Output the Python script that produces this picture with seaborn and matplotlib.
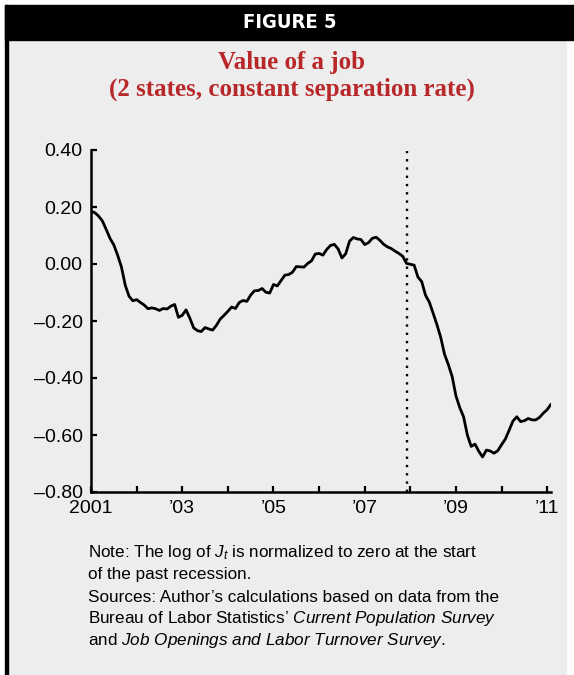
import numpy as np
import pandas as pd
import matplotlib
matplotlib.use("Agg")
import matplotlib.pyplot as plt
import seaborn as sns
from matplotlib.patches import Rectangle

# monthly values of log J_t, Jan 2001 .. Feb 2011
job_value = [
    0.185, 0.180, 0.168, 0.151, 0.121, 0.090, 0.067, 0.031, -0.010, -0.074,
    -0.113, -0.129, -0.125, -0.135, -0.144, -0.157, -0.154, -0.157, -0.163, -0.156,
    -0.158, -0.148, -0.142, -0.187, -0.180, -0.161, -0.190, -0.224, -0.234, -0.237,
    -0.223, -0.228, -0.232, -0.215, -0.193, -0.180, -0.166, -0.151, -0.156, -0.135,
    -0.128, -0.131, -0.109, -0.094, -0.093, -0.086, -0.099, -0.102, -0.072, -0.077,
    -0.058, -0.039, -0.037, -0.029, -0.009, -0.010, -0.011, 0.002, 0.011, 0.035,
    0.037, 0.031, 0.051, 0.065, 0.069, 0.053, 0.021, 0.036, 0.080, 0.093,
    0.088, 0.086, 0.068, 0.075, 0.090, 0.094, 0.083, 0.069, 0.060, 0.054,
    0.045, 0.037, 0.027, 0.002, -0.001, -0.004, -0.046, -0.062, -0.110, -0.134,
    -0.173, -0.213, -0.258, -0.317, -0.353, -0.395, -0.463, -0.504, -0.536, -0.600,
    -0.640, -0.632, -0.657, -0.677, -0.653, -0.656, -0.664, -0.655, -0.634, -0.614,
    -0.583, -0.551, -0.536, -0.553, -0.550, -0.542, -0.547, -0.547, -0.538, -0.523,
    -0.511, -0.492,
]
dates = pd.date_range("2001-01-01", periods=len(job_value), freq="MS")
recession_start = pd.Timestamp("2007-12-01")

y_ticks = [0.4, 0.2, 0.0, -0.2, -0.4, -0.6, -0.8]
y_labels = ["0.40", "0.20", "0.00", "\u20130.20", "\u20130.40", "\u20130.60", "\u20130.80"]
x_years = list(range(2001, 2012))
x_labels = ["2001", "", "\u201903", "", "\u201905", "", "\u201907", "", "\u201909", "", "\u201911"]


def decimal_year(ts):
    return ts.year + (ts.month - 1) / 12.0


df = pd.DataFrame({"year": [decimal_year(d) for d in dates], "value": job_value})

sns.set_theme(style="ticks")
plt.rcParams["font.family"] = ["Liberation Sans", "DejaVu Sans"]
plt.rcParams["text.color"] = "black"
plt.rcParams["mathtext.fontset"] = "custom"
plt.rcParams["mathtext.rm"] = "Liberation Sans"
plt.rcParams["mathtext.it"] = "Liberation Sans:italic"

W, H = 574, 675
fig = plt.figure(figsize=(W / 100, H / 100), dpi=100, facecolor="white")

# panel background, header bar and left rule (pixel coords -> fig fraction)
def px_rect(x0, y0, x1, y1, color):
    fig.patches.append(Rectangle((x0 / W, 1 - y1 / H), (x1 - x0) / W, (y1 - y0) / H,
                                 transform=fig.transFigure, color=color, zorder=-10))

px_rect(6, 40, 566, 675, "#ededed")
px_rect(5, 5, 574, 40, "black")
px_rect(5, 5, 8, 675, "black")

fig.text(290 / W, 1 - 23 / H, "FIGURE 5", color="white", fontsize=14.5, fontweight="heavy",
         fontstretch="condensed", ha="center", va="center", family="DejaVu Sans")
fig.text(292 / W, 1 - 62 / H, "Value of a job", color="#b8282a", fontsize=18,
         fontweight="bold", ha="center", va="center", family="Liberation Serif")
fig.text(292 / W, 1 - 89 / H, "(2 states, constant separation rate)", color="#b8282a",
         fontsize=18, fontweight="bold", ha="center", va="center", family="Liberation Serif")

ax = fig.add_axes([91 / W, 1 - 492 / H, (551 - 91) / W, (492 - 150) / H])
ax.set_facecolor("none")

sns.lineplot(data=df, x="year", y="value", ax=ax, color="black", linewidth=2.0)
ax.plot([decimal_year(recession_start)] * 2, [-0.8, 0.395], color="black",
        linewidth=1.7, linestyle=(0, (1, 2.5)))

ax.set_xlim(2001, df["year"].iloc[-1])
ax.set_ylim(-0.8, 0.4)
ax.set_yticks(y_ticks)
ax.set_yticklabels(y_labels)
ax.set_xticks(x_years)
ax.set_xticklabels(x_labels)
ax.set_xlabel("")
ax.set_ylabel("")
ax.tick_params(direction="in", length=4, width=1.6, labelsize=14, pad=6, colors="black")
for side in ["top", "right"]:
    ax.spines[side].set_visible(False)
for side in ["left", "bottom"]:
    ax.spines[side].set_linewidth(1.8)
    ax.spines[side].set_color("black")

note_x = 88 / W
note_size = 12.3
fig.text(note_x, 1 - 553 / H, r"Note: The log of $\mathit{J_t}$ is normalized to zero at the start",
         fontsize=note_size, va="center")
fig.text(note_x, 1 - 575 / H, "of the past recession.", fontsize=note_size, va="center")
fig.text(note_x, 1 - 598 / H, "Sources: Author\u2019s calculations based on data from the",
         fontsize=note_size, va="center")
fig.text(note_x, 1 - 619 / H,
         "Bureau of Labor Statistics\u2019 " + r"$\mathit{Current\ Population\ Survey}$",
         fontsize=note_size, va="center")
fig.text(note_x, 1 - 640 / H,
         "and " + r"$\mathit{Job\ Openings\ and\ Labor\ Turnover\ Survey}$.",
         fontsize=note_size, va="center")

fig.savefig("out.png", dpi=100, facecolor="white")
